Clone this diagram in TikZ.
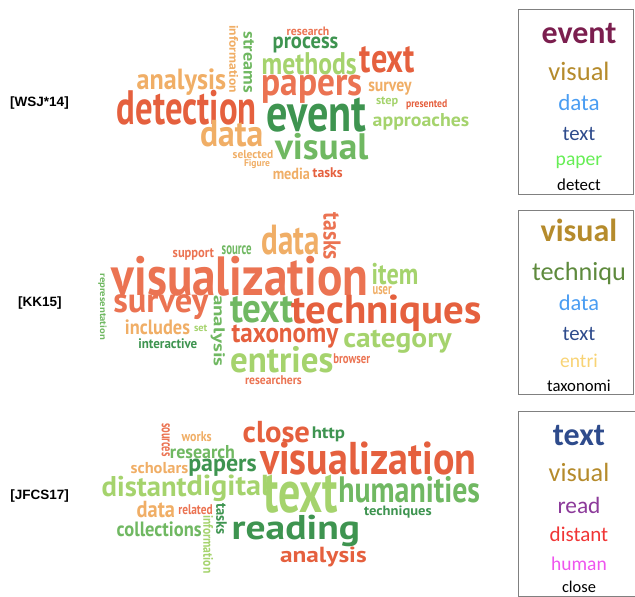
\documentclass[tikz,border=0pt]{standalone}
\usepackage{fontspec}
\usepackage{graphicx}
\newfontfamily\wcf{PT Sans}
\newfontfamily\lgf{Carlito}
\newfontfamily\lbf{Liberation Sans}
\definecolor{wcred}{HTML}{E5603E}
\definecolor{wcsalmon}{HTML}{EB7352}
\definecolor{wcorange}{HTML}{F0AE66}
\definecolor{wclgreen}{HTML}{A5D36D}
\definecolor{wcmgreen}{HTML}{70B862}
\definecolor{wcdgreen}{HTML}{3E9450}
\definecolor{lgmag}{HTML}{7B1E4E}
\definecolor{lggold}{HTML}{B58B2C}
\definecolor{lgblue}{HTML}{4A9DF2}
\definecolor{lgnavy}{HTML}{2E4B8C}
\definecolor{lgpaper}{HTML}{66EE55}
\definecolor{lgolive}{HTML}{5E8A3D}
\definecolor{lgentri}{HTML}{F8D374}
\definecolor{lgpurple}{HTML}{8C3A9A}
\definecolor{lgred}{HTML}{F03535}
\definecolor{lgpink}{HTML}{EE55EE}
\newcommand\wfit[3]{\resizebox*{#1pt}{#2pt}{\wcf\bfseries #3}}
\newcommand\W[7]{\node[wc,text=#1] (#2) at (#3,#4) {\wfit{#5}{#6}{#7}};}
\newcommand\V[7]{\node[wc,text=#1,rotate=-90] (#2) at (#3,#4) {\wfit{#5}{#6}{#7}};}
\newcommand\LG[6]{\node[lg,text=#1] (#2) at (579,#3) {\fontsize{#4}{#4}\selectfont#5#6};}
\tikzset{
  wc/.style={inner sep=0pt,outer sep=0pt},
  lg/.style={inner sep=0pt,outer sep=0pt,anchor=base,font=\lgf},
  reflabel/.style={inner sep=0pt,font=\lbf\bfseries\fontsize{13.5}{14}\selectfont},
  legbox/.style={draw=black!50,line width=0.9pt}
}
\begin{document}
\begin{tikzpicture}[x=1pt,y=-1pt]
\useasboundingbox (0,0) rectangle (635,597);
% reference labels
\node[reflabel] (labA) at (39.5,103.5) {[WSJ*14]};
\node[reflabel] (labB) at (40,303.5) {[KK15]};
\node[reflabel] (labC) at (39.7,496) {[JFCS17]};
% cloud 1
\W{wcsalmon}{aresearch}{308}{31.7}{42.6}{8.7}{research}
\V{wcorange}{ainformation}{233.8}{59.2}{68.3}{9}{information}
\V{wcmgreen}{astreams}{248.7}{62.2}{61}{10.7}{streams}
\W{wcdgreen}{aprocess}{305.5}{45.3}{65.6}{16}{process}
\W{wclgreen}{amethods}{309.2}{63.9}{95}{22.3}{methods}
\W{wcred}{atext}{387.5}{60}{55}{26.6}{text}
\W{wcorange}{aanalysis}{181.4}{81.7}{89.3}{26.7}{analysis}
\W{wcsalmon}{apapers}{312.2}{89.2}{101}{28.3}{papers}
\W{wcorange}{asurvey}{390}{88.4}{43.4}{13.3}{survey}
\W{wcred}{adetection}{186.7}{107.5}{140}{35}{detection}
\W{wclgreen}{astep}{387.2}{101.7}{22.3}{10}{step}
\W{wcred}{apresented}{426.7}{105}{41.3}{10}{presented}
\W{wcdgreen}{aevent}{316.7}{115.5}{100}{34.4}{event}
\W{wclgreen}{aapproaches}{421}{121.7}{96.6}{16.7}{approaches}
\W{wcorange}{adata}{231.7}{133.4}{63.3}{26.7}{data}
\W{wcmgreen}{avisual}{321.7}{146.7}{93.3}{26.7}{visual}
\W{wcorange}{aselected}{253}{154.2}{40.6}{8.3}{selected}
\W{wcorange}{afigure}{257}{163.8}{26}{9}{Figure}
\W{wcorange}{amedia}{291.4}{174.2}{37.3}{11.7}{media}
\W{wcred}{atasks}{327.7}{172.3}{30}{10}{tasks}
% cloud 2
\V{wcsalmon}{btasks}{332}{236.4}{47.3}{17.4}{tasks}
\W{wcorange}{bdata}{290.9}{240}{58.3}{30}{data}
\W{wcsalmon}{bsupport}{193.4}{254.2}{41.3}{11.7}{support}
\W{wcmgreen}{bsource}{236.7}{250.5}{30}{9}{source}
\W{wcsalmon}{bvisualization}{240}{276.7}{256.6}{40}{visualization}
\W{wclgreen}{bitem}{395}{274.2}{46.6}{21.7}{item}
\W{wcorange}{buser}{382.2}{290.9}{19}{8.3}{user}
\V{wcmgreen}{brepresentation}{102.5}{306.7}{66.7}{8.4}{representation}
\W{wcsalmon}{bsurvey}{160.8}{307.5}{95}{25}{survey}
\V{wcmgreen}{banalysis}{217.9}{330.9}{71.7}{14.3}{analysis}
\W{wcmgreen}{btext}{261.7}{310}{63.3}{26.6}{text}
\W{wcred}{btechniques}{386.7}{313.4}{190}{36.7}{techniques}
\W{wcorange}{bincludes}{157.5}{327.5}{65}{15}{includes}
\W{wclgreen}{bset}{200.7}{328.4}{13.3}{6.7}{set}
\W{wcdgreen}{binteractive}{167.8}{343.3}{59}{10}{interactive}
\W{wcred}{btaxonomy}{285}{336.7}{106.6}{23.3}{taxonomy}
\W{wclgreen}{bcategory}{397.5}{341.7}{108.4}{23.3}{category}
\W{wclgreen}{bentries}{281.7}{360}{103.3}{26.6}{entries}
\W{wcsalmon}{bbrowser}{351.7}{358.3}{36.7}{10}{browser}
\W{wcsalmon}{bresearchers}{273.4}{380.5}{56.7}{9}{researchers}
% cloud 3
\V{wcsalmon}{csources}{165.9}{440}{33.4}{8.3}{sources}
\W{wcorange}{cworks}{196.7}{436.7}{30}{10}{works}
\W{wcred}{cclose}{276.4}{432.5}{67.3}{21.6}{close}
\W{wcdgreen}{chttp}{328.4}{434.2}{33.3}{15}{http}
\W{wcmgreen}{cresearch}{202.5}{451.7}{65}{13.3}{research}
\W{wcred}{cvisualization}{368.4}{458.4}{216.7}{33.3}{visualization}
\W{wcorange}{cscholars}{159.5}{468.4}{57.6}{11.3}{scholars}
\W{wcdgreen}{cpapers}{222.5}{468}{68.4}{17.4}{papers}
\W{wclgreen}{cdistant}{144.2}{486.4}{85}{20.7}{distant}
\W{wclgreen}{cdigital}{228.4}{488.4}{83.3}{26.7}{digital}
\W{wclgreen}{ctext}{300.8}{494.2}{75}{38.3}{text}
\W{wcmgreen}{chumanities}{409.2}{490}{141.7}{26.6}{humanities}
\W{wcorange}{cdata}{155.9}{510}{38.3}{16.6}{data}
\W{wcsalmon}{crelated}{195.5}{510}{34.4}{10}{related}
\V{wcdgreen}{ctasks}{221.4}{519.2}{31.7}{10.7}{tasks}
\V{wclgreen}{cinformation}{208.3}{544.2}{58.3}{10}{information}
\W{wcdgreen}{ctechniques}{397.9}{512.2}{67.7}{12.3}{techniques}
\W{wcmgreen}{ccollections}{159.2}{529.2}{85}{15}{collections}
\W{wcdgreen}{creading}{295.9}{530.9}{128.3}{31.7}{reading}
\W{wcred}{canalysis}{323.4}{556.7}{86.7}{20}{analysis}
% legend boxes
\draw[legbox] (518,9) rectangle (633,194.5);
\draw[legbox] (518,210.5) rectangle (633,394.5);
\draw[legbox] (636,411) -| (518,596) -- (636,596);
% legend 1
\LG{lgmag}{levent}{43}{32}{\bfseries}{event}
\LG{lggold}{lvisualA}{80}{26.5}{}{visual}
\LG{lgblue}{ldataA}{110}{23}{}{data}
\LG{lgnavy}{ltextA}{140}{20.8}{}{text}
\LG{lgpaper}{lpaper}{165}{19.6}{}{paper}
\LG{black}{ldetect}{190}{16.8}{}{detect}
% legend 2
\LG{lggold}{lvisualB}{241.7}{32}{\bfseries}{visual}
\LG{lgolive}{ltechniqu}{280}{26.2}{}{techniqu}
\LG{lgblue}{ldataB}{310.7}{22.4}{}{data}
\LG{lgnavy}{ltextB}{340}{20.8}{}{text}
\LG{lgentri}{lentri}{367.7}{19.5}{}{entri}
\LG{black}{ltaxonomi}{391.7}{16.7}{}{taxonomi}
% legend 3
\LG{lgnavy}{ltextC}{445}{32}{\bfseries}{text}
\LG{lggold}{lvisualC}{481.7}{26.3}{}{visual}
\LG{lgpurple}{lread}{513.3}{23.4}{}{read}
\LG{lgred}{ldistant}{541.7}{21}{}{distant}
\LG{lgpink}{lhuman}{570}{19.5}{}{human}
\LG{black}{lclose}{592.7}{16.4}{}{close}
\end{tikzpicture}
\end{document}
